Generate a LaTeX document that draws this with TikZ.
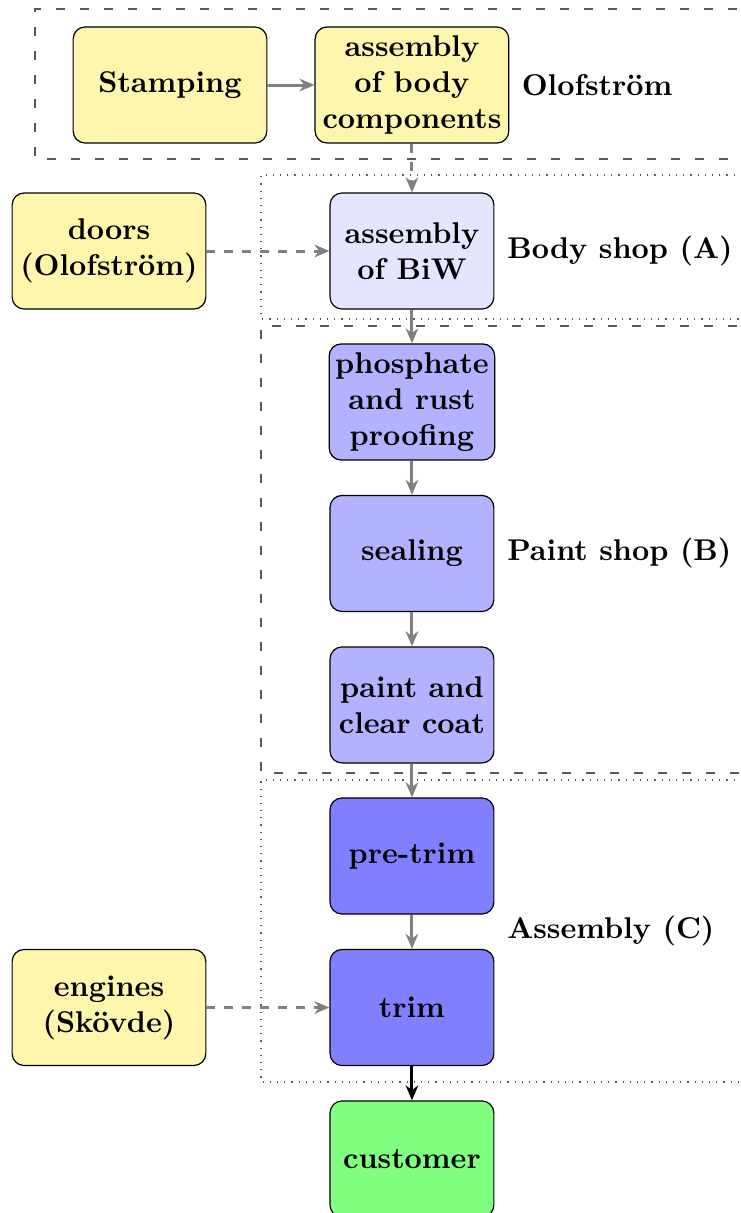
\documentclass[tikz,border=0pt]{standalone}
\usepackage{amsmath}
\usepackage{tikz}
\usetikzlibrary{arrows.meta}

\definecolor{supply}{RGB}{255,246,174}

\tikzset{
  stage/.style={draw, rounded corners, align=center, font=\bfseries, minimum width=1.92cm, minimum height=1.36cm, inner sep=2pt},
  outside/.style={stage, fill=supply, minimum width=2.27cm},
  flow/.style={->, >={Stealth[length=5pt,width=4.2pt,inset=1.6pt]}, line width=1pt, gray},
  feed/.style={flow, dashed},
  area/.style={font=\bfseries, right},
  zone/.style={black!65, dash pattern=on 3pt off 5pt},
  shop/.style={black!65, dotted}
}

\begin{document}
\begin{tikzpicture}
\useasboundingbox (0,0) rectangle (8.682,-14.213);

\draw[zone] (9.2,-0.105) -- (0.41,-0.105) -- (0.41,-1.863) -- (9.2,-1.863);
\draw[shop] (9.2,-2.05) -- (3.058,-2.05) -- (3.058,-3.738) -- (9.2,-3.738);
\draw[zone] (9.2,-3.82) -- (3.058,-3.82) -- (3.058,-9.057) -- (9.2,-9.057);
\draw[shop] (9.2,-9.139) -- (3.058,-9.139) -- (3.058,-12.678) -- (9.2,-12.678);

\node[outside] (stamp) at (1.992,-0.996) {Stamping};
\node[outside] (body) at (4.827,-0.996) {assembly\\of body\\components};
\node[area] (olof) at (5.99,-0.996) {Olofstr\"om};

\node[outside] (doors) at (1.277,-2.941) {doors\\(Olofstr\"om)};
\node[stage, fill=blue!10] (biw) at (4.827,-2.941) {assembly\\of BiW};
\node[area] (shopa) at (5.82,-2.941) {Body shop (A)};

\node[stage, fill=blue!30] (phos) at (4.827,-4.710) {phosphate\\and rust\\proofing};
\node[stage, fill=blue!30] (seal) at (4.827,-6.485) {sealing};
\node[stage, fill=blue!30] (paint) at (4.827,-8.260) {paint and\\clear coat};
\node[area] (shopb) at (5.82,-6.485) {Paint shop (B)};

\node[stage, fill=blue!50] (pretrim) at (4.827,-10.030) {pre-trim};
\node[stage, fill=blue!50] (trim) at (4.827,-11.805) {trim};
\node[outside] (engines) at (1.277,-11.805) {engines\\(Sk\"ovde)};
\node[area] (shopc) at (5.82,-10.908) {Assembly (C)};

\node[stage, fill=green!50] (cust) at (4.827,-13.580) {customer};

\draw[flow] (stamp) -- (body);
\draw[feed] (body) -- (biw);
\draw[feed] (doors) -- (biw);
\draw[flow] (biw) -- (phos);
\draw[flow] (phos) -- (seal);
\draw[flow] (seal) -- (paint);
\draw[flow] (paint) -- (pretrim);
\draw[flow] (pretrim) -- (trim);
\draw[feed] (engines) -- (trim);
\draw[flow, black] (trim) -- (cust);
\end{tikzpicture}
\end{document}
